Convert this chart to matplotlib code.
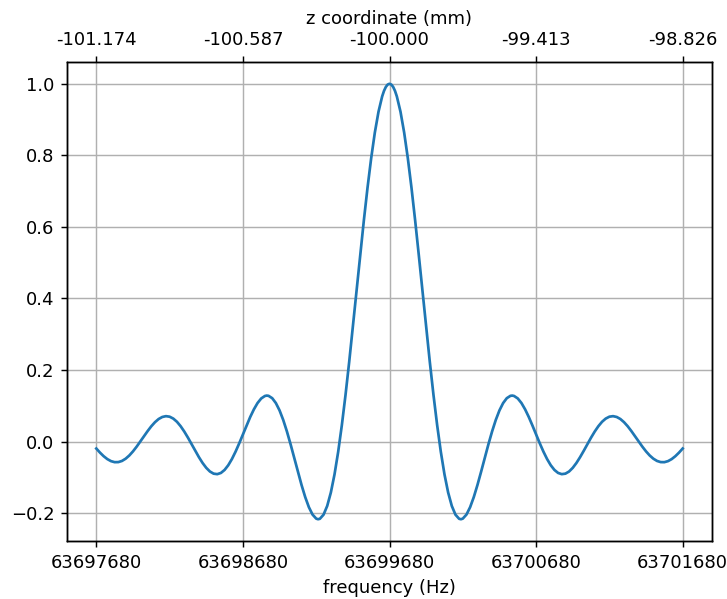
import matplotlib
matplotlib.use("Agg")
import matplotlib.pyplot as plt
import numpy as np

center_hz = 63699680
freq_offset_hz = [
    -2000, -1975, -1950, -1925, -1900, -1875, -1850, -1825, -1800, -1775,
    -1750, -1725, -1700, -1675, -1650, -1625, -1600, -1575, -1550, -1525,
    -1500, -1475, -1450, -1425, -1400, -1375, -1350, -1325, -1300, -1275,
    -1250, -1225, -1200, -1175, -1150, -1125, -1100, -1075, -1050, -1025,
    -1000, -975, -950, -925, -900, -875, -850, -837.5, -825, -800,
    -775, -750, -725, -700, -675, -650, -625, -600, -575, -550,
    -525, -500, -487.5, -475, -450, -425, -400, -375, -350, -325,
    -300, -275, -250, -225, -200, -175, -150, -125, -100, -75,
    -50, -37.5, -25, -12.5,
    0,
    12.5, 25, 37.5, 50,
    75, 100, 125, 150, 175, 200, 225, 250, 275, 300,
    325, 350, 375, 400, 425, 450, 475, 487.5, 500, 525,
    550, 575, 600, 625, 650, 675, 700, 725, 750, 775,
    800, 825, 837.5, 850, 875, 900, 925, 950, 975, 1000,
    1025, 1050, 1075, 1100, 1125, 1150, 1175, 1200, 1225, 1250,
    1275, 1300, 1325, 1350, 1375, 1400, 1425, 1450, 1475, 1500,
    1525, 1550, 1575, 1600, 1625, 1650, 1675, 1700, 1725, 1750,
    1775, 1800, 1825, 1850, 1875, 1900, 1925, 1950, 1975, 2000,
]
amplitude = [
    -0.0196, -0.0310, -0.0410, -0.0491, -0.0548, -0.0577, -0.0575, -0.0543, -0.0480, -0.0390,
    -0.0276, -0.0144, 0.0000, 0.0148, 0.0292, 0.0426, 0.0540, 0.0629, 0.0686, 0.0709,
    0.0694, 0.0641, 0.0552, 0.0429, 0.0279, 0.0109, -0.0074, -0.0260, -0.0438, -0.0600,
    -0.0736, -0.0838, -0.0898, -0.0912, -0.0878, -0.0794, -0.0663, -0.0490, -0.0282, -0.0049,
    0.0199, 0.0448, 0.0687, 0.0900, 0.1077, 0.1204, 0.1273, 0.1284, 0.1277, 0.1211,
    0.1074, 0.0870, 0.0603, 0.0284, -0.0074, -0.0456, -0.0843, -0.1215, -0.1553, -0.1835,
    -0.2042, -0.2155, -0.2172, -0.2160, -0.2045, -0.1801, -0.1424, -0.0917, -0.0285, 0.0460,
    0.1303, 0.2224, 0.3199, 0.4202, 0.5205, 0.6178, 0.7092, 0.7920, 0.8637, 0.9219,
    0.9648, 0.9801, 0.9911, 0.9978,
    1.0000,
    0.9978, 0.9911, 0.9801, 0.9648,
    0.9219, 0.8637, 0.7920, 0.7092, 0.6178, 0.5205, 0.4202, 0.3199, 0.2224, 0.1303,
    0.0460, -0.0285, -0.0917, -0.1424, -0.1801, -0.2045, -0.2160, -0.2172, -0.2155, -0.2042,
    -0.1835, -0.1553, -0.1215, -0.0843, -0.0456, -0.0074, 0.0284, 0.0603, 0.0870, 0.1074,
    0.1211, 0.1277, 0.1284, 0.1273, 0.1204, 0.1077, 0.0900, 0.0687, 0.0448, 0.0199,
    -0.0049, -0.0282, -0.0490, -0.0663, -0.0794, -0.0878, -0.0912, -0.0898, -0.0838, -0.0736,
    -0.0600, -0.0438, -0.0260, -0.0074, 0.0109, 0.0279, 0.0429, 0.0552, 0.0641, 0.0694,
    0.0709, 0.0686, 0.0629, 0.0540, 0.0426, 0.0292, 0.0148, 0.0000, -0.0144, -0.0276,
    -0.0390, -0.0480, -0.0543, -0.0575, -0.0577, -0.0548, -0.0491, -0.0410, -0.0310, -0.0196,
]
bottom_ticks = [63697680, 63698680, 63699680, 63700680, 63701680]
top_tick_labels = ["-101.174", "-100.587", "-100.000", "-99.413", "-98.826"]

freq = np.array(freq_offset_hz) + center_hz

fig = plt.figure(figsize=(727 / 130, 599 / 130), dpi=130)
ax = fig.add_axes([67 / 727, 1 - 541 / 599, (712 - 67) / 727, (541 - 62) / 599])
ax.plot(freq, amplitude, color="#1f77b4", linewidth=1.5)
ax.set_xticks(bottom_ticks)
ax.set_xticklabels([str(t) for t in bottom_ticks])
ax.set_xlabel("frequency (Hz)")
ax.grid(True)

ax2 = ax.twiny()
ax2.set_xlim(ax.get_xlim())
ax2.set_xticks(bottom_ticks)
ax2.set_xticklabels(top_tick_labels)
ax2.set_xlabel("z coordinate (mm)")

fig.savefig("out.png", dpi=130)
